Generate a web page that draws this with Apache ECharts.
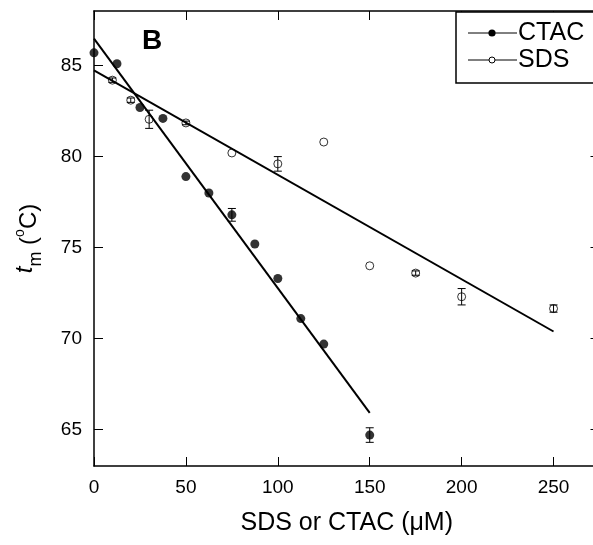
<!DOCTYPE html>
<html>
<head>
<meta charset="utf-8">
<script src="https://cdn.jsdelivr.net/npm/echarts@6/dist/echarts.min.js"></script>
<style>
  html, body { margin: 0; padding: 0; background: #fff; }
  #chart { width: 593px; height: 545px; }
</style>
</head>
<body>
<div id="chart"></div>
<script>
// Melting temperature vs. surfactant concentration
const ctacConc = [0, 12.5, 25, 37.5, 50, 62.5, 75, 87.5, 100, 112.5, 125, 150];
const ctacTm   = [85.7, 85.1, 82.7, 82.1, 78.9, 78.0, 76.8, 75.2, 73.3, 71.1, 69.7, 64.7];
const ctacErr  = [0, 0, 0, 0, 0, 0, 0.35, 0, 0, 0, 0, 0.4];

const sdsConc = [10, 20, 30, 50, 75, 100, 125, 150, 175, 200, 250];
const sdsTm   = [84.2, 83.1, 82.05, 81.85, 80.2, 79.6, 80.8, 74.0, 73.6, 72.3, 71.65];
const sdsErr  = [0.12, 0.12, 0.5, 0.1, 0, 0.4, 0, 0, 0.12, 0.45, 0.2];

// Linear fits (end points)
const ctacFit = [[0, 86.48], [150, 65.92]];
const sdsFit  = [[0, 84.74], [250, 70.39]];

const xTicks = [0, 50, 100, 150, 200, 250];
const yTicks = [65, 70, 75, 80, 85];

const FONT = '"Liberation Sans", Arial, Helvetica, sans-serif';
const INK = '#000';

function points(xs, ys) { return xs.map((x, i) => [x, ys[i]]); }
function bars(xs, ys, es) {
  const out = [];
  xs.forEach((x, i) => { if (es[i] > 0) out.push([x, ys[i] - es[i], ys[i] + es[i]]); });
  return out;
}

function errorBarItem(params, api) {
  const x = api.value(0);
  const lo = api.coord([x, api.value(1)]);
  const hi = api.coord([x, api.value(2)]);
  const hw = 4;
  const st = { stroke: INK, lineWidth: 1 };
  return {
    type: 'group',
    children: [
      { type: 'line', shape: { x1: hi[0], y1: hi[1], x2: lo[0], y2: lo[1] }, style: st },
      { type: 'line', shape: { x1: hi[0] - hw, y1: hi[1], x2: hi[0] + hw, y2: hi[1] }, style: st },
      { type: 'line', shape: { x1: lo[0] - hw, y1: lo[1], x2: lo[0] + hw, y2: lo[1] }, style: st }
    ]
  };
}

const frameAxis = {
  axisLine: { show: true, onZero: false, lineStyle: { color: INK, width: 1.5 } },
  splitLine: { show: false }
};
const tickStyle = (vals) => ({ show: true, inside: true, length: 9, customValues: vals, lineStyle: { color: INK, width: 1 } });

const chart = echarts.init(document.getElementById('chart'), null, { renderer: 'canvas' });

chart.setOption({
  animation: false,
  backgroundColor: '#fff',
  // the frame runs slightly past the right edge of the canvas
  grid: { left: 94, top: 11, width: 505.5, height: 455, containLabel: false, outerBoundsMode: 'none' },
  xAxis: [
    Object.assign({
      type: 'value', min: 0, max: 275, position: 'bottom',
      axisTick: tickStyle(xTicks),
      axisLabel: { customValues: xTicks, margin: 12, fontSize: 19, color: INK, fontFamily: FONT },
      name: 'SDS or CTAC (\u03bcM)', nameLocation: 'middle', nameGap: 45,
      nameTextStyle: { fontSize: 25, color: INK, fontFamily: FONT }
    }, frameAxis),
    Object.assign({
      type: 'value', min: 0, max: 275, position: 'top',
      axisTick: tickStyle(xTicks),
      axisLabel: { show: false }
    }, frameAxis)
  ],
  yAxis: [
    Object.assign({
      type: 'value', min: 63, max: 88, position: 'left',
      axisTick: tickStyle(yTicks),
      axisLabel: { customValues: yTicks, margin: 12, fontSize: 19, color: INK, fontFamily: FONT },
      name: '{it|t}{sub|m}{txt| (}{sup|o}{txt|C)}',
      nameLocation: 'middle', nameGap: 49,
      nameTextStyle: {
        fontFamily: FONT, color: INK, lineHeight: 48,
        rich: {
          it:  { fontFamily: FONT, fontSize: 24, fontStyle: 'italic', lineHeight: 32, verticalAlign: 'top', color: INK },
          sub: { fontFamily: FONT, fontSize: 18, lineHeight: 12, verticalAlign: 'bottom', color: INK },
          txt: { fontFamily: FONT, fontSize: 24, lineHeight: 24, verticalAlign: 'middle', color: INK },
          sup: { fontFamily: FONT, fontSize: 14, lineHeight: 25, verticalAlign: 'top', color: INK }
        }
      }
    }, frameAxis),
    Object.assign({
      type: 'value', min: 63, max: 88, position: 'right',
      axisTick: tickStyle(yTicks),
      axisLabel: { show: false }
    }, frameAxis)
  ],
  series: [
    {
      name: 'CTAC fit', type: 'line', data: ctacFit, xAxisIndex: 0, yAxisIndex: 0,
      symbol: 'none', lineStyle: { color: INK, width: 2 }, z: 2
    },
    {
      name: 'SDS fit', type: 'line', data: sdsFit, xAxisIndex: 0, yAxisIndex: 0,
      symbol: 'none', lineStyle: { color: INK, width: 2 }, z: 2
    },
    {
      name: 'CTAC', type: 'scatter', data: points(ctacConc, ctacTm),
      symbol: 'circle', symbolSize: 9,
      itemStyle: { color: INK, borderWidth: 0 }, z: 3
    },
    {
      name: 'SDS', type: 'scatter', data: points(sdsConc, sdsTm),
      symbol: 'circle', symbolSize: 8,
      itemStyle: { color: 'rgba(0,0,0,0)', borderColor: INK, borderWidth: 1 }, z: 3
    },
    {
      name: 'CTAC error', type: 'custom', renderItem: errorBarItem,
      data: bars(ctacConc, ctacTm, ctacErr), encode: { x: 0, y: [1, 2] }, z: 4
    },
    {
      name: 'SDS error', type: 'custom', renderItem: errorBarItem,
      data: bars(sdsConc, sdsTm, sdsErr), encode: { x: 0, y: [1, 2] }, z: 4
    }
  ],
  graphic: [
    // panel letter
    { type: 'text', left: 142, top: 27, style: { text: 'B', font: 'bold 28px ' + FONT, fill: INK } },
    // key box
    { type: 'rect', shape: { x: 456, y: 12, width: 160, height: 71 }, style: { fill: '#fff', stroke: INK, lineWidth: 1.5 }, z: 10 },
    { type: 'line', shape: { x1: 468, y1: 33, x2: 517, y2: 33 }, style: { stroke: INK, lineWidth: 1 }, z: 11 },
    { type: 'circle', shape: { cx: 492, cy: 33, r: 3.6 }, style: { fill: INK }, z: 11 },
    { type: 'text', x: 518, y: 33, style: { text: 'CTAC', font: '25px ' + FONT, fill: INK, textVerticalAlign: 'middle' }, z: 11 },
    { type: 'line', shape: { x1: 468, y1: 60, x2: 517, y2: 60 }, style: { stroke: INK, lineWidth: 1 }, z: 11 },
    { type: 'circle', shape: { cx: 492, cy: 60, r: 3 }, style: { fill: '#fff', stroke: INK, lineWidth: 1 }, z: 11 },
    { type: 'text', x: 518, y: 60, style: { text: 'SDS', font: '25px ' + FONT, fill: INK, textVerticalAlign: 'middle' }, z: 11 }
  ]
});
</script>
</body>
</html>
